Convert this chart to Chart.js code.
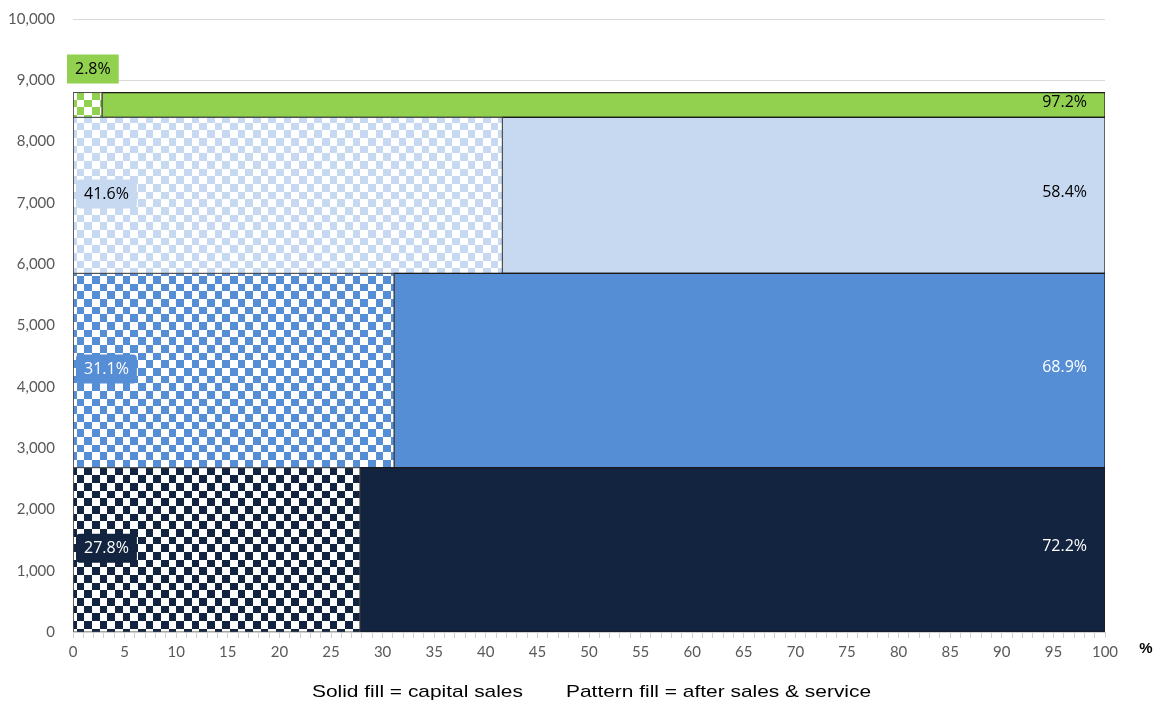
<!DOCTYPE html>
<html>
<head>
<meta charset="utf-8">
<script src="https://cdn.jsdelivr.net/npm/chart.js@4.4.1/dist/chart.umd.min.js"></script>
<style>
  html, body { margin: 0; padding: 0; background: #fff; }
  #wrap { width: 1162px; height: 704px; }
</style>
</head>
<body>
<div id="wrap"><canvas id="chart" width="1162" height="704"></canvas></div>
<script>
// bands, bottom to top
const bands = ['Segment A', 'Segment B', 'Segment C', 'Segment D'];
const bandTotals = [2680, 3170, 2545, 405];
const patternShare = [27.8, 31.1, 41.6, 2.8];   // after sales & service
const solidShare = [72.2, 68.9, 58.4, 97.2];    // capital sales
const bandColors = ['#12243f', '#558ed5', '#c6d9f1', '#92d050'];
const labelColors = ['#ffffff', '#ffffff', '#000000', '#000000'];
const yTicks = [0, 1000, 2000, 3000, 4000, 5000, 6000, 7000, 8000, 9000, 10000];
const xLabels = [0, 5, 10, 15, 20, 25, 30, 35, 40, 45, 50, 55, 60, 65, 70, 75, 80, 85, 90, 95, 100];

function checker(color) {
    const b = [0, 8, 15, 23, 31, 38, 46];
    const c = document.createElement('canvas');
    c.width = c.height = 46;
    const g = c.getContext('2d');
    g.fillStyle = '#fff';
    g.fillRect(0, 0, 46, 46);
    g.fillStyle = color;
    for (let i = 0; i < 6; i++) {
        for (let j = 0; j < 6; j++) {
            if ((i + j) % 2 === 0) g.fillRect(b[i], b[j], b[i + 1] - b[i], b[j + 1] - b[j]);
        }
    }
    return g.createPattern(c, 'repeat');
}

function rect(x0, x1, y0, y1) {
    return [{x: x0, y: y0}, {x: x1, y: y0}, {x: x1, y: y1}, {x: x0, y: y1}, {x: x0, y: y0}];
}

const datasets = [];
let base = 0;
bands.forEach((name, i) => {
    const top = base + bandTotals[i];
    datasets.push({
        label: name + ' pattern',
        data: rect(0, patternShare[i], base, top),
        showLine: true, fill: 'shape',
        backgroundColor: checker(bandColors[i]),
        borderColor: '#4a4a4a', borderWidth: 1,
        pointRadius: 0, tension: 0
    });
    datasets.push({
        label: name + ' solid',
        data: rect(patternShare[i], 100, base, top),
        showLine: true, fill: 'shape',
        backgroundColor: bandColors[i],
        borderColor: '#1a1a1a', borderWidth: 1.2,
        pointRadius: 0, tension: 0
    });
    base = top;
});

const labelPlugin = {
    id: 'labels',
    afterDatasetsDraw(chart) {
        const ctx = chart.ctx;
        const xs = chart.scales.x, ys = chart.scales.y;
        const area = chart.chartArea;
        ctx.save();
        ctx.font = '16px "Open Sans"';
        ctx.textBaseline = 'middle';
        let b = 0;
        bands.forEach((name, i) => {
            const t = b + bandTotals[i];
            const ymid = ys.getPixelForValue((b + t) / 2);
            const left = patternShare[i].toFixed(1) + '%';
            const right = solidShare[i].toFixed(1) + '%';
            const w = ctx.measureText(left).width + 16;
            let bx = xs.getPixelForValue(0) + 3, by = ymid - 16;
            if (bandTotals[i] < 800) {
                bx = xs.getPixelForValue(0) - 6;
                by = ys.getPixelForValue(t) - 38;
            }
            ctx.fillStyle = bandColors[i];
            ctx.beginPath();
            if (bandTotals[i] < 800) ctx.rect(bx, by, w, 29);
            else ctx.roundRect(bx, by, w, 29, 4);
            ctx.fill();
            ctx.fillStyle = labelColors[i];
            ctx.textAlign = 'center';
            ctx.fillText(left, bx + w / 2, by + 15);
            ctx.textAlign = 'right';
            ctx.fillText(right, area.right - 18, ymid - 3);
            b = t;
        });
        // axis unit and fill key
        ctx.fillStyle = '#000';
        ctx.font = 'bold 15px "Liberation Sans"';
        ctx.textAlign = 'center';
        ctx.fillText('%', area.right + 41, 649);
        ctx.font = '17px "Liberation Sans"';
        ctx.translate(312, 692);
        ctx.scale(1.23, 1);
        ctx.textAlign = 'left';
        ctx.fillText('Solid fill = capital sales', 0, 0);
        ctx.fillText('Pattern fill = after sales & service', (566 - 312) / 1.23, 0);
        ctx.restore();
    }
};

new Chart(document.getElementById('chart'), {
    type: 'scatter',
    data: { datasets: datasets },
    options: {
        responsive: false,
        animation: false,
        layout: { padding: { top: 19, right: 57, bottom: 0, left: 0 } },
        plugins: { legend: { display: false }, tooltip: { enabled: false } },
        scales: {
            x: {
                type: 'linear', min: 0, max: 100,
                afterBuildTicks: (scale) => {
                    scale.ticks = Array.from({length: 101}, (_, k) => ({value: k}));
                },
                afterFit: (scale) => { scale.height = 72; },
                ticks: {
                    autoSkip: false, maxRotation: 0, padding: 5,
                    color: '#595959', font: { family: 'Lato', size: 15 },
                    callback: (v) => xLabels.includes(v) ? String(v) : ''
                },
                grid: { drawOnChartArea: false, drawTicks: true, tickLength: 6, color: '#d0d0d0' },
                border: { display: true, color: '#d0d0d0' }
            },
            y: {
                type: 'linear', min: 0, max: 10000,
                afterBuildTicks: (scale) => { scale.ticks = yTicks.map(v => ({value: v})); },
                afterFit: (scale) => {
                    scale.width = 73;
                    scale.paddingTop = 0;
                    scale.paddingBottom = 0;
                },
                ticks: {
                    padding: 18, color: '#595959', font: { family: 'Lato', size: 15 },
                    callback: (v) => v.toLocaleString('en-US')
                },
                grid: { color: '#d9d9d9', drawTicks: false },
                border: { display: false }
            }
        }
    },
    plugins: [labelPlugin]
});
</script>
</body>
</html>
